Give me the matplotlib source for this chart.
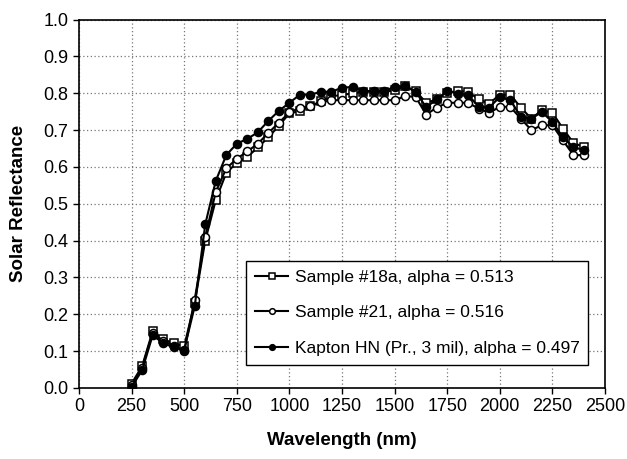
import matplotlib
matplotlib.use("Agg")
import matplotlib.pyplot as plt
import numpy as np

plt.rcParams['font.family'] = ['Liberation Sans', 'DejaVu Sans']

wavelength = list(range(250, 2401, 50))

sample_18a = [0.012, 0.059, 0.154, 0.132, 0.122, 0.113, 0.232, 0.400, 0.510, 0.584,
              0.611, 0.627, 0.653, 0.680, 0.712, 0.745, 0.752, 0.765, 0.778, 0.792,
              0.795, 0.800, 0.804, 0.804, 0.804, 0.808, 0.819, 0.806, 0.774, 0.783,
              0.801, 0.806, 0.804, 0.783, 0.772, 0.796, 0.796, 0.761, 0.731, 0.754,
              0.747, 0.704, 0.665, 0.654]

sample_21 = [0.008, 0.055, 0.150, 0.128, 0.115, 0.100, 0.240, 0.410, 0.532, 0.596,
             0.622, 0.642, 0.663, 0.692, 0.720, 0.748, 0.760, 0.765, 0.775, 0.781,
             0.781, 0.781, 0.781, 0.781, 0.781, 0.781, 0.792, 0.790, 0.742, 0.761,
             0.774, 0.774, 0.774, 0.758, 0.747, 0.763, 0.763, 0.731, 0.700, 0.713,
             0.713, 0.672, 0.632, 0.632]

kapton = [0.003, 0.048, 0.143, 0.122, 0.110, 0.104, 0.222, 0.444, 0.562, 0.632,
          0.663, 0.676, 0.694, 0.725, 0.752, 0.774, 0.796, 0.796, 0.804, 0.804,
          0.815, 0.817, 0.806, 0.806, 0.806, 0.817, 0.819, 0.804, 0.762, 0.783,
          0.806, 0.799, 0.795, 0.763, 0.761, 0.790, 0.781, 0.736, 0.731, 0.749,
          0.722, 0.680, 0.654, 0.645]

labels = ["Sample #18a, alpha = 0.513",
          "Sample #21, alpha = 0.516",
          "Kapton HN (Pr., 3 mil), alpha = 0.497"]

fig = plt.figure(figsize=(6.27, 4.59), dpi=100)
ax = fig.add_axes([79/627, 1-388/459, 526/627, 368.5/459])

ms = 5.8
ax.plot(wavelength, sample_18a, color='black', lw=1.5, marker='s', ms=ms,
        mfc='white', mec='black', mew=1.1, label=labels[0], zorder=3)
ax.plot(wavelength, sample_21, color='black', lw=1.5, marker='o', ms=ms,
        mfc='white', mec='black', mew=1.1, label=labels[1], zorder=3)
ax.plot(wavelength, kapton, color='black', lw=1.5, marker='o', ms=ms,
        mfc='black', mec='black', mew=1.1, label=labels[2], zorder=4)

ax.set_xlim(0, 2500)
ax.set_ylim(0, 1.0)
ax.set_xticks(np.arange(0, 2501, 250))
ax.set_yticks(np.arange(0, 1.01, 0.1))
ax.set_yticklabels([f"{v:.1f}" for v in np.arange(0, 1.01, 0.1)])
ax.tick_params(direction='out', length=4, width=1, labelsize=13, color='black')
ax.grid(True, linestyle=(0, (1, 2)), color='#777777', linewidth=0.9)
ax.set_axisbelow(True)
for s in ax.spines.values():
    s.set_linewidth(1.2)

ax.set_xlabel("Wavelength (nm)", fontsize=13.5, fontweight='bold', labelpad=12)
ax.set_ylabel("Solar Reflectance", fontsize=13.5, fontweight='bold', labelpad=12)

leg = ax.legend(loc='lower left', bbox_to_anchor=(0.317, 0.062, 0.651, 0.296),
                mode='expand', fontsize=12.5, frameon=True, fancybox=False,
                edgecolor='black', framealpha=1, handlelength=1.9,
                markerscale=0.7, labelspacing=1.15, borderpad=0.55,
                handletextpad=0.4, borderaxespad=0)
leg.get_frame().set_linewidth(1.0)

fig.savefig("out.png", dpi=100)
